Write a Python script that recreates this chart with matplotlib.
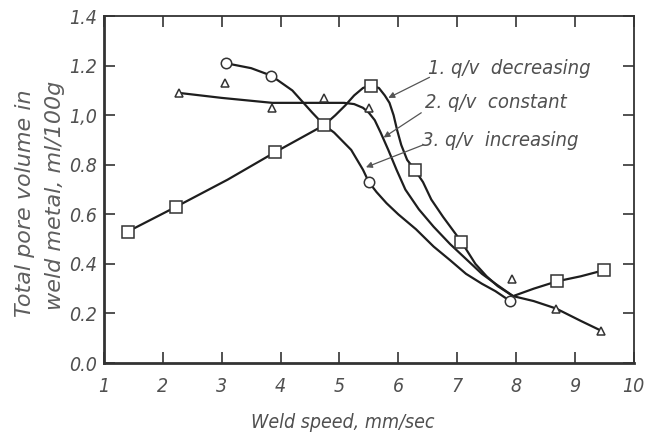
import matplotlib
matplotlib.use("Agg")
import matplotlib.pyplot as plt

# ---- measured points (open markers) ----
sq_x = [1.40, 2.22, 3.90, 4.74, 5.53, 6.28, 7.07, 8.70, 9.50]
sq_y = [0.53, 0.63, 0.85, 0.96, 1.12, 0.78, 0.49, 0.33, 0.375]
circ_x = [3.07, 3.84, 5.50, 7.90]
circ_y = [1.21, 1.16, 0.73, 0.25]
tri_x = [2.28, 3.05, 3.86, 4.74, 5.50, 7.93, 8.68, 9.45]
tri_y = [1.09, 1.13, 1.03, 1.07, 1.03, 0.34, 0.22, 0.13]

# ---- traced curves ----
# 1. q/v decreasing
c1_x = [1.40, 2.22, 3.10, 3.90, 4.74, 4.93, 5.10, 5.25, 5.40, 5.53, 5.67, 5.77,
        5.85, 5.92, 5.98, 6.05, 6.15, 6.28, 6.42, 6.56, 6.76, 7.07, 7.31, 7.50,
        7.69, 7.95, 8.30, 8.70, 9.10, 9.50]
c1_y = [0.53, 0.63, 0.74, 0.85, 0.96, 1.00, 1.04, 1.08, 1.11, 1.12, 1.11, 1.08,
        1.05, 1.00, 0.94, 0.88, 0.82, 0.78, 0.73, 0.66, 0.59, 0.49, 0.40, 0.35,
        0.31, 0.27, 0.30, 0.33, 0.35, 0.375]
# 2. q/v constant
c2_x = [2.28, 3.00, 3.86, 4.74, 5.08, 5.25, 5.40, 5.50, 5.60, 5.70, 5.83, 5.97,
        6.12, 6.35, 6.60, 6.88, 7.15, 7.42, 7.65, 7.95, 8.30, 8.68, 9.10, 9.45]
c2_y = [1.09, 1.07, 1.05, 1.05, 1.05, 1.045, 1.03, 1.01, 0.98, 0.93, 0.86, 0.78,
        0.70, 0.62, 0.55, 0.48, 0.42, 0.36, 0.32, 0.27, 0.25, 0.22, 0.17, 0.13]
# 3. q/v increasing
c3_x = [3.07, 3.50, 3.84, 4.20, 4.54, 4.74, 4.91, 5.20, 5.40, 5.50, 5.63, 5.80,
        6.00, 6.30, 6.60, 6.88, 7.15, 7.42, 7.65, 7.90]
c3_y = [1.21, 1.19, 1.16, 1.10, 1.01, 0.96, 0.93, 0.86, 0.78, 0.73, 0.69, 0.645,
        0.60, 0.54, 0.47, 0.415, 0.36, 0.32, 0.29, 0.25]

x_ticks = list(range(1, 11))
y_ticks = [0.0, 0.2, 0.4, 0.6, 0.8, 1.0, 1.2, 1.4]
y_ticklabels = ["0.0", "0.2", "0.4", "0.6", "0.8", "1,0", "1.2", "1.4"]

labels = ["1. q/v  decreasing", "2. q/v  constant", "3. q/v  increasing"]

ink = "#1e1e1e"
txt = "#505050"
font = dict(family="DejaVu Sans", style="italic", stretch="condensed", color=txt)
font_ylab = dict(family="DejaVu Sans", style="italic", color="#5e5e5e")

fig = plt.figure(figsize=(6.48, 4.36), dpi=100)
ax = fig.add_axes([0.1605, 0.1674, 0.8175, 0.7956])

for cx, cy in [(c1_x, c1_y), (c2_x, c2_y), (c3_x, c3_y)]:
    ax.plot(cx, cy, color=ink, lw=1.6, solid_capstyle="round",
            solid_joinstyle="round", zorder=2)

mk = dict(linestyle="none", markerfacecolor="white", markeredgecolor="#333333",
          markeredgewidth=1.1, zorder=3)
ax.plot(sq_x, sq_y, marker="s", markersize=8, **mk)
ax.plot(circ_x, circ_y, marker="o", markersize=7.5, **mk)
ax.plot(tri_x, tri_y, marker="^", markersize=5.5, **mk)

ax.set_xlim(1, 10)
ax.set_ylim(0, 1.4)
ax.set_xticks(x_ticks)
ax.set_xticklabels([str(t) for t in x_ticks], fontsize=14, **font)
ax.set_yticks(y_ticks)
ax.set_yticklabels(y_ticklabels, fontsize=14, **font)
ax.tick_params(direction="in", length=8, width=1.2, color="#333333",
               top=True, right=True, pad=5)
ax.tick_params(axis="x", pad=10)
for side in ["left", "bottom"]:
    ax.spines[side].set_linewidth(2.0)
for side in ["top", "right"]:
    ax.spines[side].set_linewidth(1.3)
for s in ax.spines.values():
    s.set_color("#333333")

# labels with leader arrows
text_pos = [(6.50, 1.19), (6.45, 1.05), (6.40, 0.90)]
leader_start = [(6.53, 1.153), (6.39, 1.01), (6.42, 0.88)]
arrow_tip = [(5.83, 1.07), (5.75, 0.91), (5.45, 0.79)]
for lab, tp, st, tip in zip(labels, text_pos, leader_start, arrow_tip):
    ax.text(tp[0], tp[1], lab, fontsize=14.5, va="center", ha="left", **font)
    ax.annotate("", xy=tip, xytext=st,
                arrowprops=dict(arrowstyle="-|>", lw=0.9, color="#555555",
                                mutation_scale=9, shrinkA=0, shrinkB=0))

fig.text(0.529, 0.018, "Weld speed, mm/sec", fontsize=14, ha="center",
         va="baseline", **font)
fig.text(0.0386, 0.534, "Total pore volume in", fontsize=16, rotation=90,
         ha="center", va="center", **font_ylab)
fig.text(0.0849, 0.553, "weld metal, ml/100g", fontsize=16, rotation=90,
         ha="center", va="center", **font_ylab)

fig.savefig("out.png", dpi=100)
